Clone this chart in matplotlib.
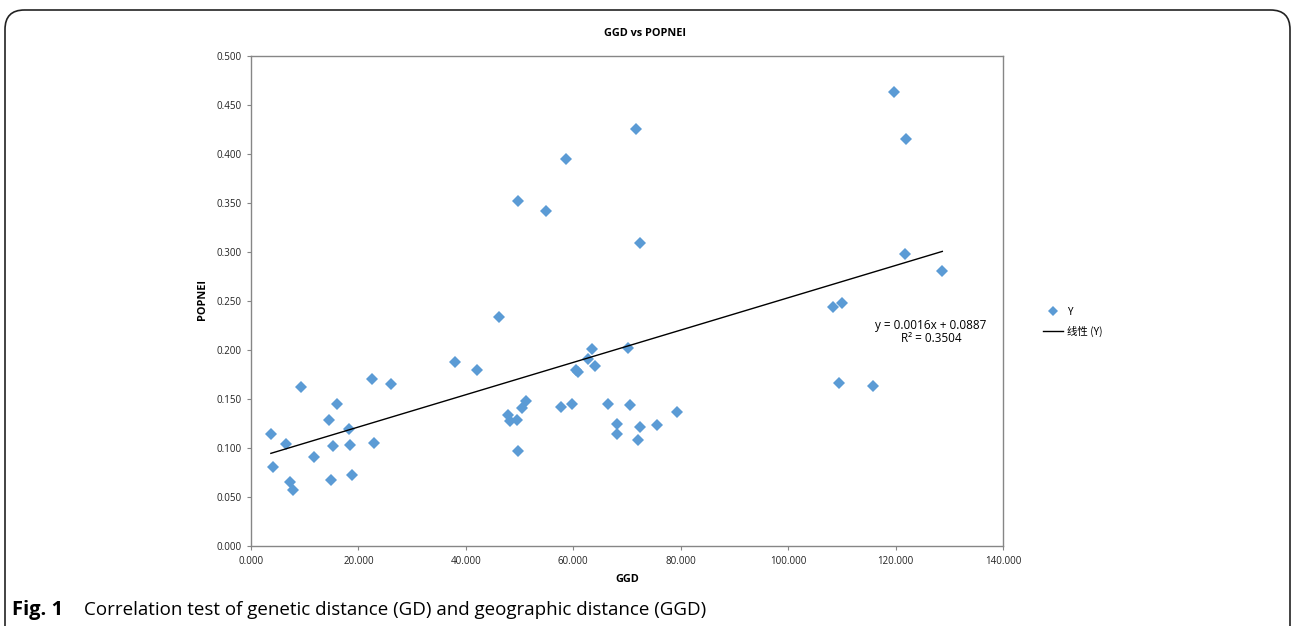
import numpy as np
import matplotlib
matplotlib.use("Agg")
import matplotlib.pyplot as plt
from matplotlib.patches import FancyBboxPatch
from matplotlib.lines import Line2D

# GGD (x) and POPNEI (y) values
ggd = [3.7, 4.1, 6.5, 7.3, 7.8, 9.3, 11.7, 14.5, 14.9, 15.3, 16.0, 18.2, 18.4, 18.8,
       22.5, 22.9, 26.1, 38.0, 42.1, 46.2, 47.8, 48.2, 49.7, 49.5, 49.7, 50.5, 51.2,
       54.9, 57.7, 58.6, 59.8, 60.5, 60.9, 62.7, 63.5, 64.0, 66.5, 68.1, 68.1, 70.2,
       70.6, 71.7, 72.1, 72.4, 72.4, 75.6, 79.3, 108.4, 109.5, 110.1, 115.8, 119.7,
       121.9, 121.8, 128.7]
popnei = [0.114, 0.081, 0.104, 0.065, 0.057, 0.162, 0.091, 0.129, 0.067, 0.102, 0.145,
          0.119, 0.103, 0.072, 0.170, 0.105, 0.165, 0.188, 0.180, 0.234, 0.134, 0.128,
          0.352, 0.129, 0.097, 0.141, 0.148, 0.342, 0.142, 0.395, 0.145, 0.180, 0.178,
          0.191, 0.201, 0.184, 0.145, 0.124, 0.114, 0.202, 0.144, 0.426, 0.108, 0.309,
          0.121, 0.123, 0.137, 0.244, 0.166, 0.248, 0.163, 0.463, 0.415, 0.298, 0.281]

x_ticks = [0, 20, 40, 60, 80, 100, 120, 140]
y_ticks = [0.0, 0.05, 0.1, 0.15, 0.2, 0.25, 0.3, 0.35, 0.4, 0.45, 0.5]

plt.rcParams['font.family'] = ['Open Sans', 'Noto Sans CJK SC', 'DejaVu Sans']

W, H = 1292, 626
fig = plt.figure(figsize=(W / 100, H / 100), dpi=100)

# rounded panel border
border = FancyBboxPatch((5 / W, -0.2), (1285 / W), 1.2 - 10 / H,
                        boxstyle="round,pad=0,rounding_size=0.015",
                        transform=fig.transFigure, fill=False,
                        edgecolor='#222222', linewidth=1.2, mutation_aspect=W / H)
fig.patches.append(border)

ax = fig.add_axes([251 / W, 1 - 546 / H, 752 / W, 490 / H])
point_color = '#5B9BD5'
ax.plot(ggd, popnei, linestyle='none', marker='D', ms=6.5, color=point_color,
        markeredgewidth=0)

# linear trendline
slope, icpt = np.polyfit(ggd, popnei, 1)
xs = np.array([min(ggd), max(ggd)])
ax.plot(xs, slope * xs + icpt, color='black', linewidth=1)

ax.set_xlim(0, 140)
ax.set_ylim(0, 0.5)
ax.set_xticks(x_ticks)
ax.set_yticks(y_ticks)
ax.set_xticklabels([f"{v:.3f}" for v in x_ticks])
ax.set_yticklabels([f"{v:.3f}" for v in y_ticks])
ax.tick_params(labelsize=7, colors='#222222', length=3, width=0.8, pad=4)
ax.tick_params(axis='both', color='#868686')
for sp in ax.spines.values():
    sp.set_color('#868686')
    sp.set_linewidth(1.0)

fig.text(645 / W, 1 - 33 / H, "GGD vs POPNEI", ha='center', va='center',
         fontsize=7.8, fontweight='bold')
fig.text(627 / W, 1 - 580 / H, "GGD", ha='center', va='center',
         fontsize=7.8, fontweight='bold')
fig.text(203 / W, 1 - 300 / H, "POPNEI", ha='center', va='center',
         fontsize=7.8, fontweight='bold', rotation=90)

fig.text(931 / W, 1 - 325 / H, "y = 0.0016x + 0.0887", ha='center', va='center',
         fontsize=8.5)
fig.text(931 / W, 1 - 339 / H, "R² = 0.3504", ha='center', va='center',
         fontsize=8.5)

handles = [Line2D([], [], linestyle='none', marker='D', ms=5.5, color=point_color,
                  markeredgewidth=0),
           Line2D([], [], color='black', linewidth=1)]
leg = fig.legend(handles, ['Y', '线性 (Y)'], loc='center left',
                 bbox_to_anchor=(1034 / W, 1 - 322 / H), frameon=False,
                 prop={'family': ['Noto Sans CJK SC', 'DejaVu Sans'], 'size': 7.5},
                 handlelength=1.9, handletextpad=0.4, labelspacing=0.9)

fig_lbl = fig.text(12 / W, 1 - 610 / H, "Fig. 1", ha='left', va='center',
                   fontsize=14.5, fontweight='bold')
fig.text(84 / W, 1 - 610 / H,
         "Correlation test of genetic distance (GD) and geographic distance (GGD)",
         ha='left', va='center', fontsize=13.5)

fig.savefig("out.png", dpi=100)
